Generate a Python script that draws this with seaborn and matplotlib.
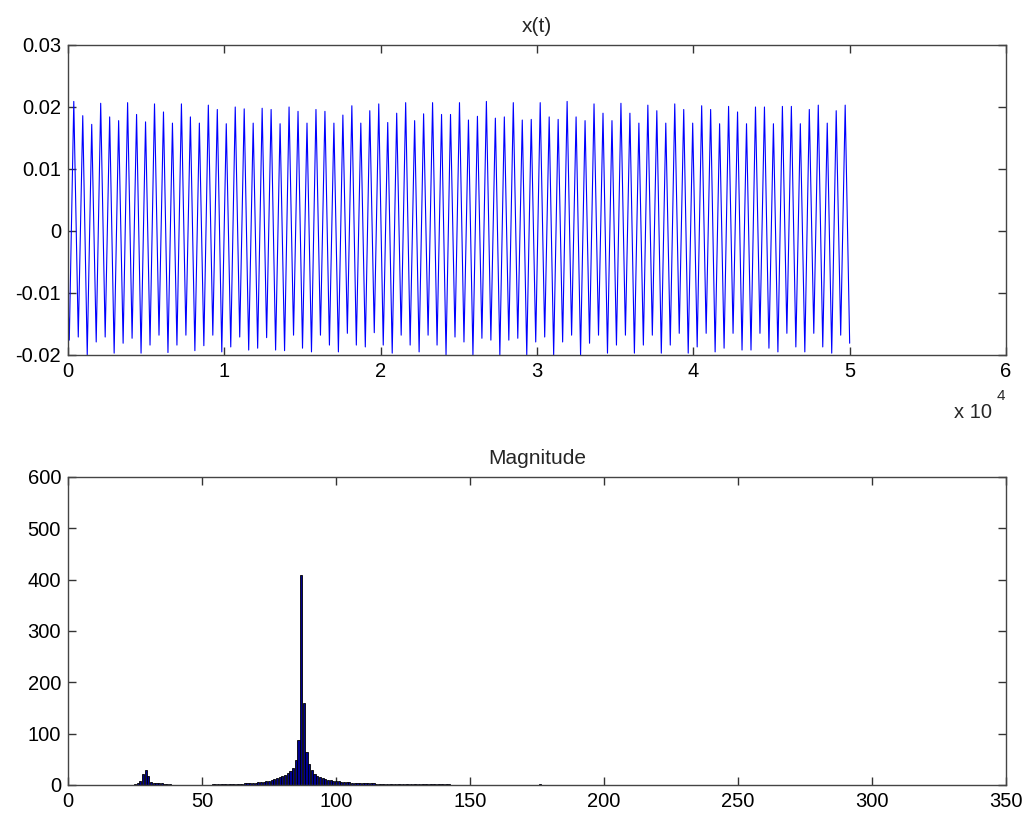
import matplotlib
matplotlib.use('Agg')
import matplotlib.pyplot as plt
import seaborn as sns
import numpy as np
import pandas as pd
from matplotlib.ticker import FuncFormatter

sns.set_style('ticks')
plt.rcParams['font.family'] = ['Liberation Sans', 'DejaVu Sans']
plt.rcParams['path.simplify'] = False

# ---- x(t): signal value at t=0, then alternating troughs / peaks
x_start = -0.0117
x_peaks = [
    0.0209, 0.0186, 0.0172, 0.0206, 0.0184, 0.0178, 0.0207, 0.0188, 0.0176, 0.0205,
    0.0192, 0.0174, 0.0205, 0.0184, 0.0174, 0.0203, 0.0196, 0.0173, 0.0200, 0.0197,
    0.0174, 0.0198, 0.0196, 0.0173, 0.0200, 0.0193, 0.0174, 0.0196, 0.0193, 0.0174,
    0.0187, 0.0202, 0.0174, 0.0194, 0.0205, 0.0175, 0.0190, 0.0207, 0.0178, 0.0189,
    0.0207, 0.0188, 0.0188, 0.0207, 0.0179, 0.0185, 0.0209, 0.0182, 0.0184, 0.0207,
    0.0179, 0.0180, 0.0207, 0.0184, 0.0180, 0.0209, 0.0184, 0.0178, 0.0205, 0.0190,
    0.0178, 0.0206, 0.0190, 0.0174, 0.0203, 0.0194, 0.0174, 0.0205, 0.0196, 0.0174,
    0.0202, 0.0196, 0.0173, 0.0201, 0.0192, 0.0173, 0.0200, 0.0200, 0.0173, 0.0201,
    0.0201, 0.0173, 0.0196, 0.0203, 0.0174, 0.0194, 0.0203,
]
x_troughs = [
    -0.0176, -0.0171, -0.0200, -0.0179, -0.0171, -0.0197, -0.0181, -0.0173, -0.0197, -0.0184,
    -0.0168, -0.0196, -0.0184, -0.0168, -0.0193, -0.0185, -0.0168, -0.0195, -0.0187, -0.0171,
    -0.0192, -0.0189, -0.0172, -0.0192, -0.0193, -0.0168, -0.0189, -0.0195, -0.0168, -0.0184,
    -0.0195, -0.0165, -0.0184, -0.0187, -0.0164, -0.0184, -0.0197, -0.0168, -0.0184, -0.0195,
    -0.0168, -0.0184, -0.0200, -0.0171, -0.0179, -0.0200, -0.0173, -0.0176, -0.0200, -0.0176,
    -0.0173, -0.0200, -0.0179, -0.0171, -0.0200, -0.0179, -0.0168, -0.0200, -0.0181, -0.0168,
    -0.0197, -0.0184, -0.0168, -0.0197, -0.0184, -0.0168, -0.0197, -0.0184, -0.0165, -0.0197,
    -0.0187, -0.0165, -0.0195, -0.0189, -0.0165, -0.0192, -0.0192, -0.0165, -0.0189, -0.0195,
    -0.0165, -0.0187, -0.0195, -0.0165, -0.0187, -0.0197, -0.0168, -0.0181,
]
first_extreme_t = 83
last_sample_t = 50000

# ---- Magnitude spectrum (bin index -> |X|)
freq_bins = ([25, 26, 27, 28, 29, 30, 31, 32, 33, 34, 35, 36, 37, 38, 39]
             + list(range(54, 146)) + [176])
magnitude = [
    1.2, 3, 8, 21, 30, 17, 6.5, 4.5, 4, 3.2, 3, 2.8, 2.5, 1.2, 0.8,
    # 54 - 69
    1.5, 1.6, 1.7, 1.8, 1.9, 2.0, 2.1, 2.2, 2.3, 2.5, 2.6, 2.8, 3.0, 3.2, 3.5, 3.9,
    # 70 - 86
    4.5, 5.0, 5.6, 6.3, 7.2, 8.4, 9.7, 11, 13, 15, 17.5, 19.5, 24, 27, 34, 48, 87,
    # 87 - 100
    410, 160, 65, 41, 29, 21, 17, 15, 13, 11, 9.7, 9.0, 8.4, 7.8,
    # 101 - 120
    7.0, 6.2, 5.8, 5.3, 5.0, 4.6, 4.3, 4.0, 3.8, 3.6, 3.4, 3.3, 3.1, 3.0, 2.9, 2.8,
    2.6, 2.5, 2.4, 2.3,
    # 121 - 145
    2.2, 2.1, 2.0, 1.9, 1.8, 1.8, 1.7, 1.6, 1.6, 1.5, 1.5, 1.4, 1.4, 1.3, 1.3, 1.2,
    1.2, 1.1, 1.1, 1.0, 1.0, 1.0, 0.9, 0.9, 0.8,
    # 176
    1.2,
]

# interleave troughs / peaks into one polyline
vals = [x_start]
for i in range(len(x_peaks)):
    vals += [x_troughs[i], x_peaks[i]]
vals += x_troughs[len(x_peaks):]
times = np.concatenate([[0], np.linspace(first_extreme_t, last_sample_t, len(vals) - 1)])
sig = pd.DataFrame({'t': times, 'x': vals})
spec = pd.DataFrame({'bin': freq_bins, 'mag': magnitude})

fig = plt.figure(figsize=(10.29, 8.16), dpi=100)
ax1 = fig.add_axes([68/1029, 1-355/816, 938/1029, 310/816])
ax2 = fig.add_axes([68/1029, 1-785/816, 938/1029, 308/816])

sns.lineplot(data=sig, x='t', y='x', ax=ax1, color='#0000ff', linewidth=0.8,
             estimator=None, sort=False)
ax1.set_xlim(0, 60000)
ax1.set_ylim(-0.02, 0.03)
ax1.set_xticks(np.arange(0, 60001, 10000))
ax1.xaxis.set_major_formatter(FuncFormatter(lambda v, p: f'{v/1e4:g}'))
ax1.set_yticks([-0.02, -0.01, 0, 0.01, 0.02, 0.03])
ax1.yaxis.set_major_formatter(FuncFormatter(lambda v, p: f'{v:g}' if abs(v) > 1e-9 else '0'))
ax1.set_title('x(t)', fontsize=15, pad=9)
fig.text(954/1029, 1-413/816, 'x 10', fontsize=14.5, va='center', ha='left')
fig.text(1001/1029, 1-396/816, '4', fontsize=11, va='center', ha='center')

sns.barplot(data=spec, x='bin', y='mag', ax=ax2, native_scale=True, color='#00008f',
            saturation=1, edgecolor='black', linewidth=0.6, width=0.8, errorbar=None)
ax2.set_xlim(0, 350)
ax2.set_ylim(0, 600)
ax2.set_xticks(np.arange(0, 351, 50))
ax2.set_yticks(np.arange(0, 601, 100))
ax2.xaxis.set_major_formatter(FuncFormatter(lambda v, p: f'{v:g}'))
ax2.set_title('Magnitude', fontsize=15, pad=9)

for ax in (ax1, ax2):
    ax.set_xlabel('')
    ax.set_ylabel('')
    for s in ax.spines.values():
        s.set_visible(True)
        s.set_color('#444444')
        s.set_linewidth(1.0)
    ax.tick_params(direction='in', length=6, width=1, top=True, right=True,
                   labelsize=14.5, colors='#333333', labelcolor='black', pad=5)

fig.savefig('out.png', dpi=100)
